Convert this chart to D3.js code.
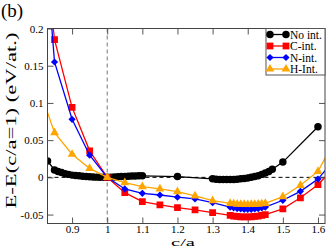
<!DOCTYPE html>
<html>
<head>
<meta charset="utf-8">
<script src="https://cdn.jsdelivr.net/npm/d3@7/dist/d3.min.js"></script>
<style>
  body { margin: 0; background: #fff; }
  svg { display: block; }
  text { font-family: "Liberation Serif", "DejaVu Serif", serif; fill: #000; }
</style>
</head>
<body>
<svg id="chart"></svg>
<script>
// c/a values and energies E - E(c/a=1) in eV/atom
const noIntCa = [0.83, 0.85, 0.86, 0.87, 0.88, 0.89, 0.90, 0.91, 0.92, 0.93, 0.94, 0.95, 0.96, 0.97,
  0.98, 0.99, 1.00, 1.01, 1.02, 1.03, 1.04, 1.05, 1.06, 1.07, 1.08, 1.09, 1.10, 1.20, 1.30,
  1.31, 1.32, 1.33, 1.34, 1.35, 1.36, 1.37, 1.38, 1.39, 1.40, 1.41, 1.42, 1.43, 1.44, 1.45,
  1.46, 1.47, 1.50, 1.60];
const noIntE = [0.022, 0.010, 0.008, 0.0065, 0.005, 0.004, 0.003, 0.0025, 0.002, 0.0015, 0.001,
  0.0007, 0.0005, 0.0003, 0.0002, 0.0001, 0, 0.0002, 0.0005, 0.0008, 0.001, 0.0013, 0.0015,
  0.0017, 0.0019, 0.002, 0.002, 0.001, -0.002, -0.0025, -0.003, -0.003, -0.003, -0.003,
  -0.0028, -0.0025, -0.002, -0.0015, -0.001, 0.0, 0.001, 0.002, 0.004, 0.006, 0.008, 0.011,
  0.0205, 0.068];

const cIntCa = [0.80, 0.85, 0.90, 0.95, 1.00, 1.05, 1.10, 1.15, 1.20, 1.25, 1.30,
  1.35, 1.36, 1.37, 1.38, 1.39, 1.40, 1.41, 1.42, 1.43, 1.44, 1.45, 1.50, 1.55, 1.60, 1.65];
const cIntE = [0.40, 0.185, 0.094, 0.0356, 0, -0.0206, -0.0326, -0.037, -0.0406, -0.0437, -0.0473,
  -0.051, -0.052, -0.0525, -0.053, -0.053, -0.053, -0.053, -0.0525, -0.052, -0.051, -0.050,
  -0.0424, -0.0275, -0.0098, 0.015];

const nIntCa = [0.80, 0.85, 0.90, 0.95, 1.00, 1.05, 1.10, 1.15, 1.20, 1.25, 1.30,
  1.35, 1.36, 1.37, 1.38, 1.39, 1.40, 1.41, 1.42, 1.43, 1.44, 1.45, 1.50, 1.55, 1.60, 1.65];
const nIntE = [0.45, 0.155, 0.078, 0.0298, 0, -0.0156, -0.0214, -0.0237, -0.0267, -0.029, -0.034,
  -0.040, -0.041, -0.042, -0.0425, -0.043, -0.043, -0.043, -0.0425, -0.042, -0.041, -0.040,
  -0.0308, -0.0188, -0.0023, 0.026];

const hIntCa = [0.80, 0.85, 0.90, 0.95, 1.00, 1.05, 1.10, 1.15, 1.20, 1.25, 1.30,
  1.35, 1.36, 1.37, 1.38, 1.39, 1.40, 1.41, 1.42, 1.43, 1.44, 1.45, 1.50, 1.55, 1.60, 1.65];
const hIntE = [0.128, 0.06, 0.031, 0.012, 0, -0.0072, -0.0125, -0.0156, -0.0193, -0.025, -0.0313,
  -0.035, -0.0355, -0.036, -0.0362, -0.0364, -0.0365, -0.0364, -0.0362, -0.036, -0.0355, -0.035,
  -0.026, -0.0107, 0.008, 0.052];

const seriesNames = ['No int.', 'C-int.', 'N-int.', 'H-Int.'];
const seriesColors = ['#000000', '#ff0000', '#0000ff', '#ffa500'];

const xTicks = [0.9, 1.0, 1.1, 1.2, 1.3, 1.4, 1.5, 1.6];
const xTickLabels = ['0.9', '1', '1.1', '1.2', '1.3', '1.4', '1.5', '1.6'];
const yTicks = [-0.05, 0, 0.05, 0.1, 0.15, 0.2];
const yTickLabels = ['-0.05', '0', '0.05', '0.1', '0.15', '0.2'];

const fullWidth = 327;
const fullHeight = 249;
const margin = { top: 28.5, right: 2, bottom: 25.5, left: 47.5 };
const width = fullWidth - margin.left - margin.right;
const height = fullHeight - margin.top - margin.bottom;

const x = d3.scaleLinear().domain([0.83, 1.62]).range([0, width]);
const y = d3.scaleLinear().domain([-0.062, 0.2]).range([height, 0]);

const svg = d3.select('#chart')
    .attr('width', fullWidth)
    .attr('height', fullHeight);

const g = svg.append('g')
    .attr('transform', `translate(${margin.left}, ${margin.top})`);

g.append('clipPath')
    .attr('id', 'plot-clip')
  .append('rect')
    .attr('width', width)
    .attr('height', height);

// reference lines
g.append('line')
    .attr('x1', x(1)).attr('x2', x(1))
    .attr('y1', 0).attr('y2', height)
    .attr('stroke', '#777')
    .attr('stroke-dasharray', '4,3');

g.append('line')
    .attr('x1', 0).attr('x2', width)
    .attr('y1', y(0)).attr('y2', y(0))
    .attr('stroke', '#000')
    .attr('stroke-dasharray', '4,3');

// axes with inward ticks
const tickFmt = (labels, ticks) => d => labels[ticks.indexOf(d)];

g.append('g')
    .attr('class', 'axis')
    .attr('transform', `translate(0, ${height})`)
    .call(d3.axisBottom(x)
      .tickValues(xTicks)
      .tickFormat(tickFmt(xTickLabels, xTicks))
      .tickSizeInner(-6)
      .tickSizeOuter(0)
      .tickPadding(2));

g.append('g')
    .attr('class', 'axis')
    .call(d3.axisTop(x)
      .tickValues(xTicks)
      .tickFormat('')
      .tickSizeInner(-6)
      .tickSizeOuter(0));

g.append('g')
    .attr('class', 'axis')
    .call(d3.axisLeft(y)
      .tickValues(yTicks)
      .tickFormat(tickFmt(yTickLabels, yTicks))
      .tickSizeInner(-6)
      .tickSizeOuter(0)
      .tickPadding(4));

g.append('g')
    .attr('class', 'axis')
    .attr('transform', `translate(${width}, 0)`)
    .call(d3.axisRight(y)
      .tickValues(yTicks)
      .tickFormat('')
      .tickSizeInner(-6)
      .tickSizeOuter(0));

g.selectAll('.axis .domain').remove();
g.selectAll('.axis .tick line').attr('stroke', '#555');
g.selectAll('.axis text')
    .style('font-family', '"Liberation Serif", serif')
    .style('font-size', '11px')
    .attr('fill', '#000');

// series
const series = [
  { ca: noIntCa, e: noIntE, symbol: d3.symbolCircle, size: 44, rotate: 0 },
  { ca: cIntCa, e: cIntE, symbol: d3.symbolSquare, size: 46, rotate: 0 },
  { ca: nIntCa, e: nIntE, symbol: d3.symbolSquare, size: 26, rotate: 45 },
  { ca: hIntCa, e: hIntE, symbol: d3.symbolTriangle, size: 34, rotate: 0 },
].map((s, i) => ({ ...s, name: seriesNames[i], color: seriesColors[i] }));

const line = d3.line()
    .x(d => x(d[0]))
    .y(d => y(d[1]));

const plot = g.append('g').attr('clip-path', 'url(#plot-clip)');

series.forEach((s) => {
  const pts = d3.zip(s.ca, s.e);
  const sg = plot.append('g');
  sg.append('path')
      .datum(pts)
      .attr('fill', 'none')
      .attr('stroke', s.color)
      .attr('stroke-width', 1.3)
      .attr('d', line);
  sg.selectAll('.pt')
      .data(pts)
    .enter().append('path')
      .attr('class', 'pt')
      .attr('transform', d => `translate(${x(d[0])}, ${y(d[1])}) rotate(${s.rotate})`)
      .attr('d', d3.symbol().type(s.symbol).size(s.size))
      .attr('fill', s.color);
});

// frame
g.append('rect')
    .attr('width', width)
    .attr('height', height)
    .attr('fill', 'none')
    .attr('stroke', '#444')
    .attr('stroke-width', 1);

// legend
const legend = g.append('g')
    .attr('transform', `translate(${x(1.452)}, 0)`);
const legendW = width - x(1.452);

legend.append('rect')
    .attr('width', legendW)
    .attr('height', 46.5)
    .attr('fill', '#fff')
    .attr('stroke', '#555');

series.forEach((s, i) => {
  const row = legend.append('g')
      .attr('transform', `translate(0, ${6 + (i * 11.5)})`);
  row.append('line')
      .attr('x1', 4).attr('x2', 20)
      .attr('stroke', s.color)
      .attr('stroke-width', 1.3);
  [4, 20].forEach((px) => {
    row.append('path')
        .attr('transform', `translate(${px}, 0) rotate(${s.rotate})`)
        .attr('d', d3.symbol().type(s.symbol).size(s.size))
        .attr('fill', s.color);
  });
  row.append('text')
      .attr('x', 24)
      .attr('dy', '0.35em')
      .style('font-size', '11.5px')
      .text(s.name);
});

// labels
svg.append('text')
    .attr('transform', `translate(16, ${margin.top + 92}) rotate(-90)`)
    .attr('text-anchor', 'middle')
    .attr('textLength', 176)
    .attr('lengthAdjust', 'spacingAndGlyphs')
    .style('font-size', '14px')
    .text('E-E(c/a=1) (eV/at.)');

svg.append('text')
    .attr('x', 183)
    .attr('y', 246.3)
    .attr('text-anchor', 'middle')
    .attr('textLength', 24)
    .attr('lengthAdjust', 'spacingAndGlyphs')
    .style('font-size', '11px')
    .text('c/a');

svg.append('text')
    .attr('x', 1)
    .attr('y', 17)
    .style('font-size', '19px')
    .text('(b)');
</script>
</body>
</html>
